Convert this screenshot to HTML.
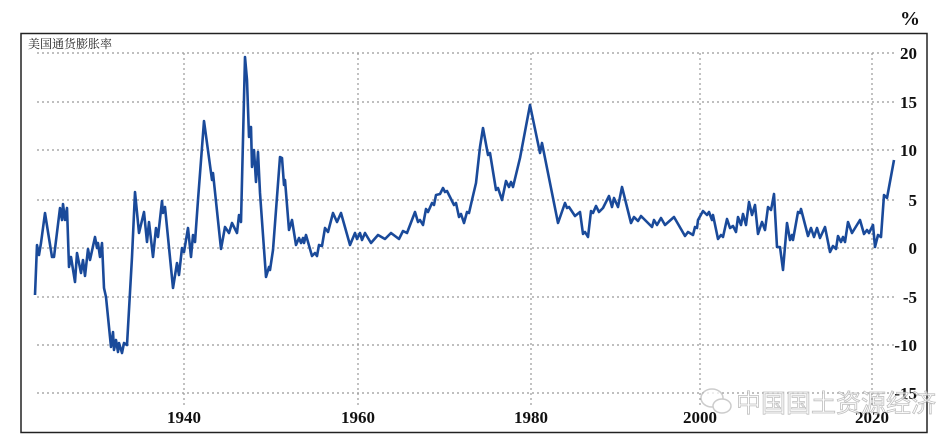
<!DOCTYPE html>
<html><head><meta charset="utf-8"><style>
html,body{margin:0;padding:0;background:#fff;}
svg{display:block;}
</style></head><body>
<svg width="951" height="445" xmlns="http://www.w3.org/2000/svg">
<rect x="0" y="0" width="951" height="445" fill="#fff"/>
<rect x="21" y="33.5" width="906" height="399" fill="none" stroke="#222" stroke-width="1.5"/>
<g stroke="#999" stroke-width="1.2" stroke-dasharray="2,3" fill="none">
<line x1="37" y1="53" x2="895" y2="53"/>
<line x1="37" y1="102" x2="895" y2="102"/>
<line x1="37" y1="150" x2="895" y2="150"/>
<line x1="37" y1="200" x2="895" y2="200"/>
<line x1="37" y1="248" x2="895" y2="248"/>
<line x1="37" y1="297" x2="895" y2="297"/>
<line x1="37" y1="345" x2="895" y2="345"/>
<line x1="37" y1="393" x2="895" y2="393"/>
<line x1="184" y1="53" x2="184" y2="405"/>
<line x1="358" y1="53" x2="358" y2="405"/>
<line x1="531" y1="53" x2="531" y2="405"/>
<line x1="700" y1="53" x2="700" y2="405"/>
<line x1="872" y1="53" x2="872" y2="405"/>
</g>
<g font-family="Liberation Serif, serif" font-weight="bold" font-size="17" fill="#111" text-anchor="end">
<text x="917" y="59">20</text>
<text x="917" y="108">15</text>
<text x="917" y="156">10</text>
<text x="917" y="206">5</text>
<text x="917" y="254">0</text>
<text x="917" y="303">-5</text>
<text x="917" y="351">-10</text>
<text x="917" y="399">-15</text>
</g>
<g font-family="Liberation Serif, serif" font-weight="bold" font-size="17" fill="#111" text-anchor="middle">
<text x="184" y="423">1940</text>
<text x="358" y="423">1960</text>
<text x="531" y="423">1980</text>
<text x="700" y="423">2000</text>
<text x="872" y="423">2020</text>
</g>
<text x="900" y="25" font-family="Liberation Serif, serif" font-weight="bold" font-size="20" fill="#111">%</text>
<text x="28" y="48" font-family="Liberation Serif, 'Noto Serif CJK SC', serif" font-size="12" fill="#222">美国通货膨胀率</text>
<polyline fill="none" stroke="#1a4a9a" stroke-width="2.6" stroke-linejoin="round" points="
35,295 37,245 39,255 41,243 45,213 48,232 52,257 54,257 60,208 62,220 63,204 65,220 67,208 69,267 71,257 75,282 77,253 81,273 83,260 85,276 88,249 90,260 95,237 97,248 98,243 100,257 102,243 104,288 106,297 111,347 113,332 114,350 116,340 118,352 119,343 122,353 124,343 127,345 132,257 135,192 139,233 144,212 147,242 149,222 153,257 156,228 158,237 162,201 163,213 165,207 173,288 177,263 179,275 182,248 184,252 188,228 191,257 193,235 195,242 198,200 204,121 212,180 213,173 221,249 225,227 229,233 232,223 237,233 239,215 241,222 245,57 247,80 249,137 251,127 252,167 254,150 256,182 258,152 260,193 266,277 269,267 270,270 273,250 280,157 282,158 284,185 285,180 289,230 292,220 296,245 299,238 301,243 303,238 304,243 306,235 312,256 315,253 317,256 319,245 322,246 325,228 328,232 333,213 337,222 341,213 350,245 355,233 357,239 360,233 362,240 365,233 371,243 378,235 385,239 391,233 399,239 403,231 407,233 415,212 418,222 420,220 423,225 426,209 428,212 432,203 434,205 436,195 440,194 443,188 445,192 447,191 454,205 456,203 459,217 461,214 464,223 467,212 469,213 472,200 476,183 480,147 483,128 488,155 490,153 496,190 498,188 502,200 506,181 509,187 511,182 513,187 520,158 530,105 540,153 542,143 558,223 565,203 567,208 569,207 575,216 580,212 583,234 585,232 588,237 591,211 593,213 596,206 599,212 603,208 609,196 612,207 614,198 618,207 622,187 631,223 634,217 638,221 641,216 652,227 654,220 657,225 661,218 665,225 674,217 685,236 688,232 693,235 695,227 697,228 698,220 703,211 707,215 709,212 712,220 713,215 718,239 721,235 723,237 727,219 730,228 733,226 736,232 738,217 741,225 743,214 746,225 749,202 752,215 755,205 758,234 762,222 765,230 768,207 771,210 772,205 774,194 777,247 780,247 783,270 787,223 790,240 792,235 793,240 798,212 800,213 801,209 808,236 811,228 814,237 817,228 820,238 825,227 830,252 833,246 836,249 838,236 841,242 843,237 845,242 848,222 852,233 860,220 864,234 867,230 869,233 873,225 875,247 878,235 881,237 884,195 887,198 894,160"/>
<g opacity="0.75">
<ellipse cx="712" cy="398" rx="11" ry="9" fill="#fff" stroke="#bbb" stroke-width="1.5"/>
<ellipse cx="722" cy="406" rx="9" ry="7" fill="#fff" stroke="#bbb" stroke-width="1.5"/>
<text x="736" y="412" font-family="'Noto Sans CJK SC', sans-serif" font-size="25" fill="#fff" stroke="#aaa" stroke-width="0.8">中国国土资源经济</text>
</g>
</svg>
</body></html>
